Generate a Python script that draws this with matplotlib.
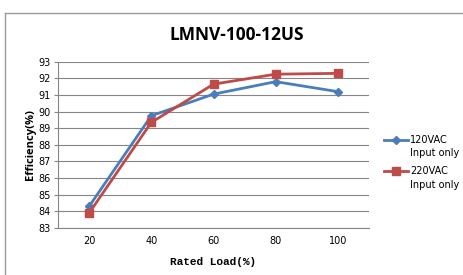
import matplotlib
matplotlib.use("Agg")
import matplotlib.pyplot as plt
from matplotlib.lines import Line2D

categories = ["20", "40", "60", "80", "100"]
eff_120 = [84.3, 89.75, 91.05, 91.8, 91.2]
eff_220 = [83.9, 89.35, 91.65, 92.25, 92.3]
yticks = list(range(83, 94))
series_names = ["120VAC", "220VAC"]
series_note = "Input only"
colors = ["#4A7EBB", "#BE4B48"]
markers = ["D", "s"]
msizes = [4.5, 6]

fig = plt.figure(figsize=(4.63, 2.75), dpi=100)
ax = fig.add_axes([0.1253, 0.1709, 0.797 - 0.1253, 0.7756 - 0.1709])

x = list(range(len(categories)))
for vals, c, m, ms in zip([eff_120, eff_220], colors, markers, msizes):
    ax.plot(x, vals, color=c, lw=2, marker=m, ms=ms, zorder=3)

ax.set_xlim(-0.5, len(categories) - 0.5)
ax.set_ylim(83, 93)
ax.set_yticks(yticks)
ax.set_xticks(x)
ax.set_xticklabels(categories)
ax.tick_params(axis="x", length=0, labelsize=7, pad=6)
ax.tick_params(axis="y", length=3, color="#868686", labelsize=7, pad=2)
ax.grid(axis="y", color="#868686", lw=0.8)
ax.set_axisbelow(True)
for s in ["top", "right"]:
    ax.spines[s].set_visible(False)
for s in ["left", "bottom"]:
    ax.spines[s].set_color("#868686")
    ax.spines[s].set_linewidth(0.8)

ax.set_ylabel("Efficiency(%)", fontsize=8, fontweight="bold", family="Open Sans", labelpad=2)
ax.set_xlabel("Rated Load(%)", fontsize=8, fontweight="bold", family="Liberation Mono", labelpad=8)
fig.text(0.512, 1 - 35 / 275, "LMNV-100-12US", ha="center", va="center", fontsize=12.5, fontweight="bold", family="Open Sans")

# legend (manual, handle aligned with first text line)
for i, (name, c, m, ms) in enumerate(zip(series_names, colors, markers, msizes)):
    yl = 1 - (140 + 31 * i) / 275
    fig.add_artist(Line2D([384 / 463, 408 / 463], [yl, yl], transform=fig.transFigure, color=c, lw=2))
    fig.add_artist(Line2D([396 / 463], [yl], transform=fig.transFigure, color=c, lw=0, marker=m, ms=ms))
    fig.text(410 / 463, yl, name, ha="left", va="center", fontsize=7)
    fig.text(410 / 463, yl - 13.5 / 275, series_note, ha="left", va="center", fontsize=7)

# outer chart frame (top and left)
fig.add_artist(Line2D([5 / 463, 5 / 463], [0, 1 - 13 / 275], transform=fig.transFigure, color="#9A9A9A", lw=1))
fig.add_artist(Line2D([5 / 463, 1], [1 - 13 / 275, 1 - 13 / 275], transform=fig.transFigure, color="#9A9A9A", lw=1))

fig.savefig("out.png", dpi=100)
